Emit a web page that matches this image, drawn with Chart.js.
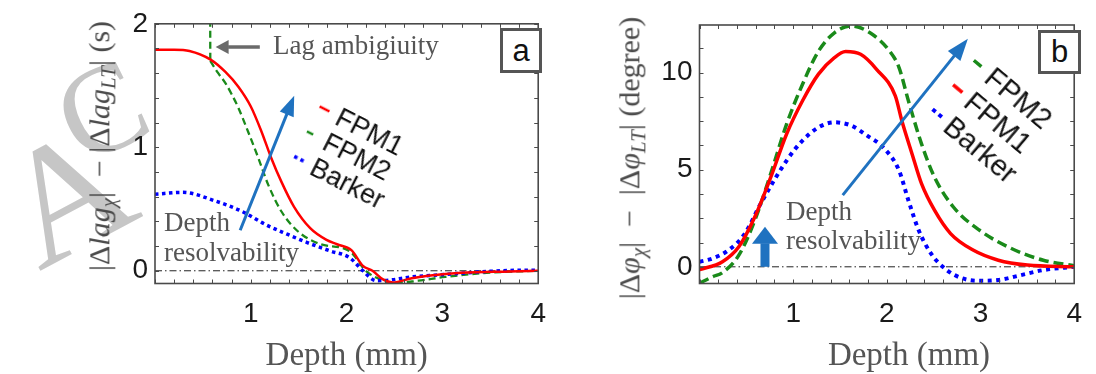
<!DOCTYPE html>
<html><head><meta charset="utf-8">
<script src="https://cdn.jsdelivr.net/npm/chart.js@4.4.0/dist/chart.umd.min.js"></script>
<style>
html,body{margin:0;padding:0;background:#fff;}
#wrap{position:relative;width:1096px;height:374px;overflow:hidden;background:#fff;}
canvas{position:absolute;top:0;}
.t{position:absolute;white-space:nowrap;font-family:"Liberation Serif","DejaVu Serif",serif;color:#555;}
.wm{position:absolute;font-family:"Liberation Serif",serif;color:#c6c6c6;line-height:1;}
.ylab{position:absolute;white-space:nowrap;font-family:"Liberation Serif",serif;color:#4a4a4a;transform:translate(-50%,-50%) rotate(-90deg);}
.ylab sub{font-size:70%;vertical-align:-0.3em;}
.box{position:absolute;box-sizing:border-box;border:3px solid #555;background:#fff;font-family:"Liberation Sans",Arial,sans-serif;color:#111;text-align:center;}
.leg{position:absolute;transform-origin:0 0;font-family:"Liberation Sans",Arial,sans-serif;color:#111;}
.leg div{display:flex;align-items:center;}
.leg svg{flex:none;}
</style></head>
<body><div id="wrap">
<div class="wm" style="left:6px;top:112px;font-size:165px;transform:rotate(-28deg);">A</div>
<div class="wm" style="left:60px;top:48px;font-size:125px;transform:rotate(-25deg);">C</div>
<canvas id="ca" width="560" height="374" style="left:0"></canvas>
<canvas id="cb" width="536" height="374" style="left:560px"></canvas>

<div class="ylab" style="left:102px;top:146px;font-size:30px;">|Δ<i>lag</i><sub><i>χ</i></sub>| &nbsp;− |Δ<i>lag</i><sub><i>LT</i></sub>| (s)</div>
<div class="ylab" style="left:632px;top:158px;font-size:30px;">|Δ<i>φ</i><sub><i>χ</i></sub>| &nbsp;− &nbsp;|Δ<i>φ</i><sub><i>LT</i></sub>| (degree)</div>

<div class="t" style="left:346.7px;top:338px;font-size:33px;line-height:33px;transform:translateX(-50%);">Depth (mm)</div>
<div class="t" style="left:909px;top:338px;font-size:33px;line-height:33px;transform:translateX(-50%);">Depth (mm)</div>

<div class="t" style="left:273px;top:32px;font-size:27px;line-height:27px;">Lag ambigiuity</div>
<div class="t" style="left:164px;top:207px;font-size:27px;line-height:30px;">Depth<br>resolvability</div>
<div class="t" style="left:786px;top:197px;font-size:27px;line-height:29px;">Depth<br>resolvability</div>

<div class="box" style="left:500px;top:28px;width:42px;height:45px;font-size:31px;line-height:39px;">a</div>
<div class="box" style="left:1038px;top:30px;width:43px;height:44px;font-size:31px;line-height:38px;">b</div>

<div class="leg" style="left:326px;top:94px;font-size:27px;transform:rotate(27deg);">
  <div style="height:28px;"><svg width="14" height="28"><line x1="0" y1="14" x2="11" y2="14" stroke="#ff0000" stroke-width="2.5"/></svg><span style="margin-left:6px">FPM1</span></div>
  <div style="height:28px;"><svg width="14" height="28"><line x1="0" y1="14" x2="11" y2="14" stroke="#1a8a1a" stroke-width="2.5" stroke-dasharray="7 4"/></svg><span style="margin-left:6px">FPM2</span></div>
  <div style="height:28px;"><svg width="14" height="28"><line x1="0" y1="14" x2="11" y2="14" stroke="#0000ff" stroke-width="3.5" stroke-dasharray="3.5 3.5"/></svg><span style="margin-left:6px">Barker</span></div>
</div>
<div class="leg" style="left:984px;top:48px;font-size:29px;transform:rotate(40deg);">
  <div style="height:32px;"><svg width="14" height="32"><line x1="0" y1="16" x2="12" y2="16" stroke="#1a8a1a" stroke-width="3.5" stroke-dasharray="10 5"/></svg><span style="margin-left:6px">FPM2</span></div>
  <div style="height:32px;"><svg width="14" height="32"><line x1="0" y1="16" x2="12" y2="16" stroke="#ff0000" stroke-width="3.5"/></svg><span style="margin-left:6px">FPM1</span></div>
  <div style="height:32px;"><svg width="14" height="32"><line x1="0" y1="16" x2="12" y2="16" stroke="#0000ff" stroke-width="4" stroke-dasharray="4 4"/></svg><span style="margin-left:6px">Barker</span></div>
</div>
</div>
<script>
// ---------- Panel a: lag difference (s) vs depth (mm) ----------
const depthA_fpm1 = [0, 0.2, 0.36, 0.58, 0.735, 0.87, 1.0, 1.11, 1.21, 1.32, 1.45, 1.62, 1.79, 1.9, 2.05, 2.17, 2.27, 2.38, 2.48, 2.68, 2.85, 3.2, 3.7, 4];
const lagA_fpm1   = [1.79, 1.79, 1.78, 1.71, 1.61, 1.49, 1.33, 1.13, 0.92, 0.72, 0.52, 0.345, 0.25, 0.215, 0.167, 0.04, 0.0, -0.07, -0.095, -0.06, -0.04, -0.015, -0.005, 0];

// first two points form the vertical "lag ambiguity" jump
const depthA_fpm2 = [0.576, 0.577, 0.65, 0.735, 0.8, 0.87, 0.97, 1.08, 1.18, 1.32, 1.49, 1.73, 2.03, 2.2, 2.35, 2.5, 2.75, 3.03, 3.5, 4];
const lagA_fpm2   = [2.3, 1.70, 1.61, 1.52, 1.43, 1.32, 1.13, 0.91, 0.70, 0.48, 0.32, 0.215, 0.16, 0.0, -0.07, -0.10, -0.08, -0.05, -0.015, 0];

const depthA_barker = [0, 0.29, 0.63, 0.91, 1.15, 1.38, 1.59, 1.83, 2.03, 2.17, 2.31, 2.45, 2.68, 3.03, 3.37, 3.88, 4];
const lagA_barker   = [0.62, 0.635, 0.565, 0.48, 0.376, 0.296, 0.228, 0.16, 0.107, 0.0, -0.08, -0.075, -0.05, -0.03, -0.01, 0.005, 0.005];

// ---------- Panel b: phase difference (degree) vs depth (mm) ----------
const depthB_fpm1 = [0, 0.245, 0.42, 0.59, 0.76, 0.93, 1.10, 1.27, 1.44, 1.56, 1.72, 1.89, 2.09, 2.16, 2.27, 2.37, 2.51, 2.68, 2.92, 3.19, 3.5, 4];
const phB_fpm1    = [-0.15, 0.26, 1.03, 2.56, 4.6, 6.84, 8.55, 9.92, 10.77, 11.08, 10.94, 10.17, 8.8, 7.52, 5.8, 4.28, 2.9, 1.71, 0.86, 0.34, 0.09, 0];

const depthB_fpm2 = [0, 0.14, 0.245, 0.42, 0.59, 0.76, 0.93, 1.10, 1.27, 1.44, 1.62, 1.82, 2.03, 2.13, 2.23, 2.37, 2.51, 2.71, 2.99, 3.33, 3.67, 4];
const phB_fpm2    = [-0.85, -0.51, -0.3, 0.6, 2.39, 4.79, 7.35, 9.4, 11.1, 12.05, 12.4, 12.05, 11.1, 10.26, 8.55, 6.33, 4.6, 3.08, 1.88, 0.94, 0.34, 0.05];

const depthB_barker = [0, 0.14, 0.31, 0.485, 0.655, 0.93, 1.10, 1.27, 1.44, 1.62, 1.79, 1.96, 2.13, 2.23, 2.34, 2.47, 2.64, 2.81, 2.99, 3.19, 3.43, 3.67, 4];
const phB_barker    = [0.26, 0.43, 0.86, 1.71, 3.27, 5.47, 6.5, 7.18, 7.44, 7.27, 6.75, 6.15, 4.96, 3.42, 1.88, 0.69, -0.17, -0.6, -0.72, -0.68, -0.43, -0.17, 0];

const xTickLabels = [1, 2, 3, 4];
const yTickLabelsA = [0, 1, 2];
const yTickLabelsB = [0, 5, 10];

const pts = (xs, ys) => xs.map((x, i) => ({x, y: ys[i]}));

function drawArrow(ctx, xs, ys, ar) {
  const x0 = xs.getPixelForValue(ar.from[0]), y0 = ys.getPixelForValue(ar.from[1]);
  const x1 = xs.getPixelForValue(ar.to[0]), y1 = ys.getPixelForValue(ar.to[1]);
  const ang = Math.atan2(y1 - y0, x1 - x0);
  const bx = x1 - ar.headLen * Math.cos(ang), by = y1 - ar.headLen * Math.sin(ang);
  ctx.setLineDash([]);
  ctx.strokeStyle = ar.color; ctx.fillStyle = ar.color; ctx.lineWidth = ar.width; ctx.lineCap = 'butt';
  ctx.beginPath(); ctx.moveTo(x0, y0); ctx.lineTo(bx + 0.5*Math.cos(ang), by + 0.5*Math.sin(ang)); ctx.stroke();
  const nx = -Math.sin(ang) * ar.headW / 2, ny = Math.cos(ang) * ar.headW / 2;
  ctx.beginPath(); ctx.moveTo(x1, y1); ctx.lineTo(bx + nx, by + ny); ctx.lineTo(bx - nx, by - ny); ctx.closePath(); ctx.fill();
}

const frameTicks = {
  id: 'frameTicks',
  afterDraw(chart, args, o) {
    const {ctx, chartArea: a} = chart;
    const xs = chart.scales.x, ys = chart.scales.y;
    ctx.save();
    ctx.strokeStyle = '#4a4a4a';
    ctx.lineWidth = 1;
    ctx.setLineDash([]);
    ctx.beginPath();
    const L = 4;
    for (let i = Math.ceil(xs.min / o.xStep - 1e-6); i * o.xStep <= xs.max + 1e-6; i++) {
      const p = Math.round(xs.getPixelForValue(i * o.xStep)) + 0.5;
      ctx.moveTo(p, a.bottom); ctx.lineTo(p, a.bottom - L);
      ctx.moveTo(p, a.top); ctx.lineTo(p, a.top + L);
    }
    for (let i = Math.ceil(ys.min / o.yStep - 1e-6); i * o.yStep <= ys.max + 1e-6; i++) {
      const p = Math.round(ys.getPixelForValue(i * o.yStep)) + 0.5;
      ctx.moveTo(a.left, p); ctx.lineTo(a.left + L, p);
      ctx.moveTo(a.right, p); ctx.lineTo(a.right - L, p);
    }
    ctx.stroke();
    ctx.lineWidth = 1.6;
    ctx.strokeRect(a.left, a.top, a.width, a.height);
    (o.arrows || []).forEach(ar => drawArrow(ctx, xs, ys, ar));
    ctx.restore();
  }
};

function makeChart(id, cfg) {
  return new Chart(document.getElementById(id), {
    type: 'line',
    data: {datasets: [
      {data: [{x: 0, y: 0}, {x: 4, y: 0}], borderColor: '#222', borderWidth: 1, borderDash: [7, 3, 1.5, 3], pointRadius: 0, tension: 0, order: 10},
      ...cfg.series.map(s => ({
        data: pts(s.x, s.y), borderColor: s.color, borderWidth: s.width, borderDash: s.dash || [],
        borderCapStyle: 'butt', pointRadius: 0,
        cubicInterpolationMode: s.straight ? 'default' : 'monotone', tension: s.straight ? 0 : 0.4,
        order: s.order
      }))
    ]},
    options: {
      animation: false, responsive: false, maintainAspectRatio: false,
      layout: {padding: {left: 0, right: cfg.padRight, top: cfg.padTop, bottom: 0}},
      plugins: {legend: {display: false}, tooltip: {enabled: false}, frameTicks: cfg.ticks},
      scales: {
        x: {type: 'linear', min: 0, max: 4,
            grid: {display: false, drawTicks: false}, border: {display: false},
            ticks: {stepSize: 1, includeBounds: false, autoSkip: false, maxRotation: 0, padding: 14,
                    color: '#1a1a1a', font: {family: '"Liberation Sans", Arial, sans-serif', size: 28},
                    callback: v => xTickLabels.includes(v) ? String(v) : ''},
            afterFit: s => { s.height = 374 - cfg.bottom; }},
        y: {type: 'linear', min: cfg.ymin, max: cfg.ymax,
            grid: {display: false, drawTicks: false}, border: {display: false},
            ticks: {stepSize: cfg.yStepLabel, includeBounds: false, autoSkip: false, padding: 7,
                    color: '#1a1a1a', font: {family: '"Liberation Sans", Arial, sans-serif', size: 28},
                    callback: v => cfg.yLabels.includes(v) ? String(v) : ''},
            afterFit: s => { s.width = cfg.left; }}
      }
    },
    plugins: [frameTicks]
  });
}

makeChart('ca', {
  left: 155, padRight: 15, padTop: 22, bottom: 283.5,
  ymin: -0.103, ymax: 2, yStepLabel: 1, yLabels: yTickLabelsA,
  ticks: {xStep: 0.2, yStep: 0.2, arrows: [
    {from: [1.094, 1.812], to: [0.633, 1.812], color: '#6a6a6a', width: 3.5, headLen: 13, headW: 14},
    {from: [0.889, 0.328], to: [1.453, 1.417], color: '#1f72c0', width: 3, headLen: 20, headW: 15}
  ]},
  series: [
    {x: depthA_fpm2.slice(0, 2), y: lagA_fpm2.slice(0, 2), color: '#1a8a1a', width: 2.3, dash: [7, 4], order: 3, straight: true},
    {x: depthA_fpm2.slice(1), y: lagA_fpm2.slice(1), color: '#1a8a1a', width: 2.3, dash: [7, 4], order: 3},
    {x: depthA_barker, y: lagA_barker, color: '#0000ff', width: 3.5, dash: [3.5, 3.5], order: 2},
    {x: depthA_fpm1, y: lagA_fpm1, color: '#ff0000', width: 2.5, order: 1}
  ]
});

makeChart('cb', {
  left: 139.5, padRight: 8, padTop: 25, bottom: 283.5,
  ymin: -0.86, ymax: 12.45, yStepLabel: 5, yLabels: yTickLabelsB,
  ticks: {xStep: 0.2, yStep: 1.25, arrows: [
    {from: [1.529, 3.69], to: [2.865, 11.74], color: '#1f72c0', width: 3, headLen: 22, headW: 16},
    {from: [0.699, 0], to: [0.699, 2.06], color: '#1f72c0', width: 9, headLen: 17, headW: 26}
  ]},
  series: [
    {x: depthB_barker, y: phB_barker, color: '#0000ff', width: 4, dash: [4, 4.5], order: 3},
    {x: depthB_fpm2, y: phB_fpm2, color: '#1a8a1a', width: 3.5, dash: [10, 5], order: 2},
    {x: depthB_fpm1, y: phB_fpm1, color: '#ff0000', width: 3.5, order: 1}
  ]
});
</script>
</body></html>
